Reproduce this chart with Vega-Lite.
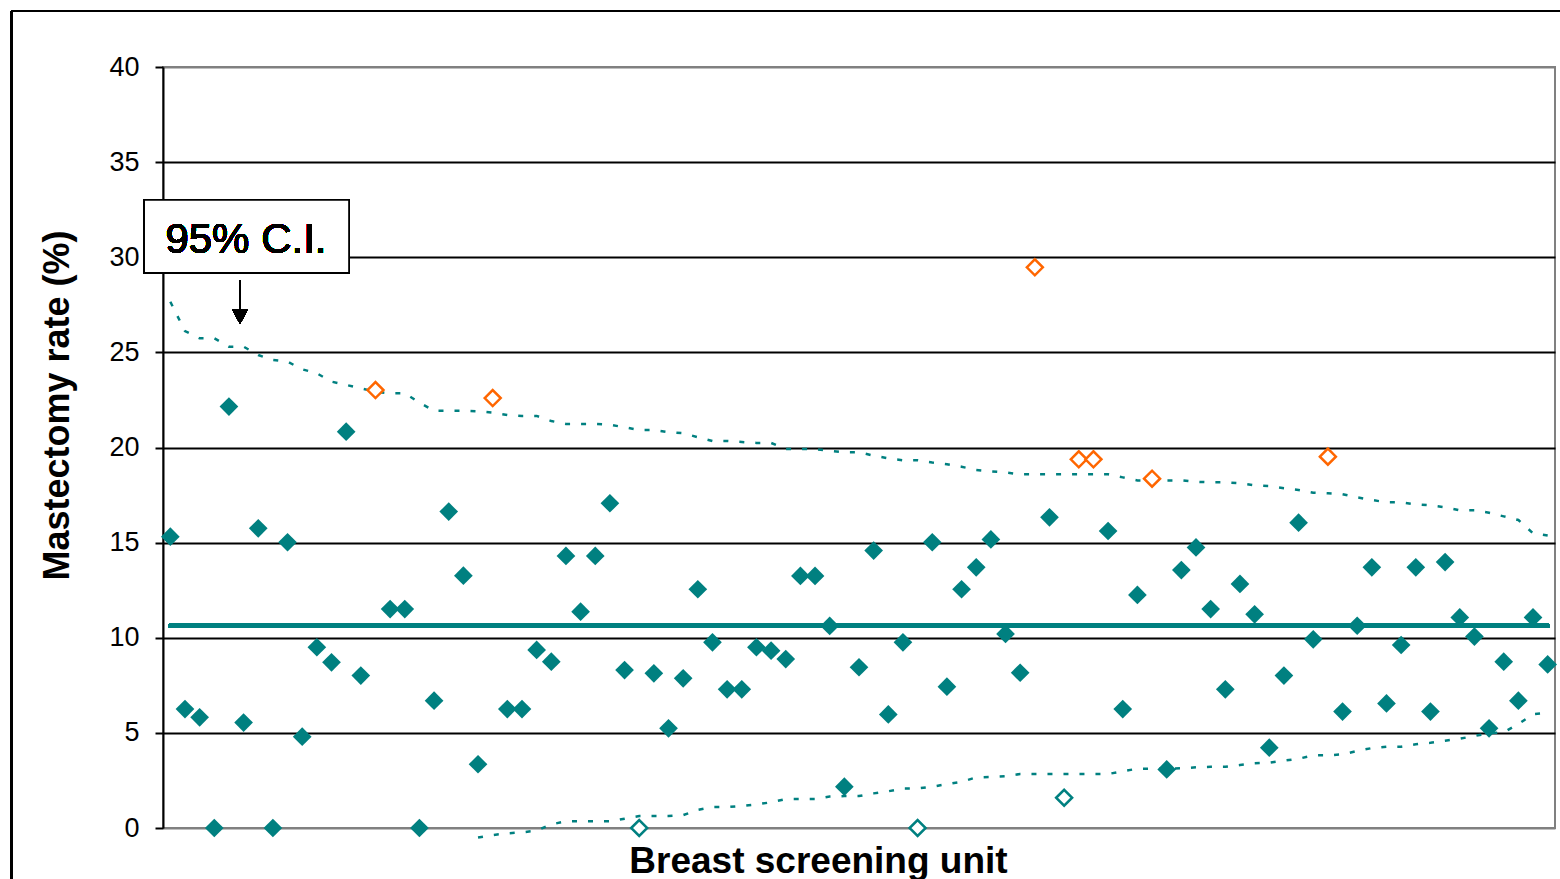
{
  "$schema": "https://vega.github.io/schema/vega-lite/v6.json",
  "width": 1392,
  "height": 761,
  "autosize": {"type": "none"},
  "padding": {"left": 163, "top": 67, "right": 5, "bottom": 51},
  "background": "white",
  "config": {
    "font": "Liberation Sans",
    "view": {"stroke": "#808080", "strokeWidth": 2},
    "axis": {"labelColor": "black", "titleColor": "black"}
  },
  "data": {
    "values": [
      {"unit": 1, "rate": 15.31, "status": "in", "upper": 27.66, "lower": null},
      {"unit": 2, "rate": 6.25, "status": "in", "upper": 26.12, "lower": null},
      {"unit": 3, "rate": 5.82, "status": "in", "upper": 25.74, "lower": null},
      {"unit": 4, "rate": 0, "status": "in", "upper": 25.74, "lower": null},
      {"unit": 5, "rate": 22.15, "status": "in", "upper": 25.3, "lower": null},
      {"unit": 6, "rate": 5.54, "status": "in", "upper": 25.3, "lower": null},
      {"unit": 7, "rate": 15.75, "status": "in", "upper": 24.86, "lower": null},
      {"unit": 8, "rate": 0, "status": "in", "upper": 24.6, "lower": null},
      {"unit": 9, "rate": 15.02, "status": "in", "upper": 24.51, "lower": null},
      {"unit": 10, "rate": 4.8, "status": "in", "upper": 24.11, "lower": null},
      {"unit": 11, "rate": 9.5, "status": "in", "upper": 23.9, "lower": null},
      {"unit": 12, "rate": 8.71, "status": "in", "upper": 23.46, "lower": null},
      {"unit": 13, "rate": 20.83, "status": "in", "upper": 23.29, "lower": null},
      {"unit": 14, "rate": 8.01, "status": "in", "upper": 23.11, "lower": null},
      {"unit": 15, "rate": 23.02, "status": "high", "upper": 22.93, "lower": null},
      {"unit": 16, "rate": 11.51, "status": "in", "upper": 22.85, "lower": null},
      {"unit": 17, "rate": 11.51, "status": "in", "upper": 22.85, "lower": null},
      {"unit": 18, "rate": 0, "status": "in", "upper": 22.36, "lower": null},
      {"unit": 19, "rate": 6.69, "status": "in", "upper": 21.93, "lower": null},
      {"unit": 20, "rate": 16.63, "status": "in", "upper": 21.93, "lower": null},
      {"unit": 21, "rate": 13.26, "status": "in", "upper": 21.93, "lower": null},
      {"unit": 22, "rate": 3.35, "status": "in", "upper": 21.9, "lower": -0.5},
      {"unit": 23, "rate": 22.6, "status": "high", "upper": 21.83, "lower": -0.37},
      {"unit": 24, "rate": 6.25, "status": "in", "upper": 21.71, "lower": -0.28},
      {"unit": 25, "rate": 6.25, "status": "in", "upper": 21.66, "lower": -0.23},
      {"unit": 26, "rate": 9.36, "status": "in", "upper": 21.66, "lower": -0.14},
      {"unit": 27, "rate": 8.74, "status": "in", "upper": 21.39, "lower": 0.19},
      {"unit": 28, "rate": 14.3, "status": "in", "upper": 21.24, "lower": 0.35},
      {"unit": 29, "rate": 11.37, "status": "in", "upper": 21.24, "lower": 0.35},
      {"unit": 30, "rate": 14.3, "status": "in", "upper": 21.24, "lower": 0.35},
      {"unit": 31, "rate": 17.07, "status": "in", "upper": 21.2, "lower": 0.35},
      {"unit": 32, "rate": 8.3, "status": "in", "upper": 21.06, "lower": 0.49},
      {"unit": 33, "rate": 0, "status": "low", "upper": 20.92, "lower": 0.63},
      {"unit": 34, "rate": 8.13, "status": "in", "upper": 20.92, "lower": 0.63},
      {"unit": 35, "rate": 5.24, "status": "in", "upper": 20.81, "lower": 0.63},
      {"unit": 36, "rate": 7.87, "status": "in", "upper": 20.75, "lower": 0.68},
      {"unit": 37, "rate": 12.55, "status": "in", "upper": 20.54, "lower": 0.95},
      {"unit": 38, "rate": 9.76, "status": "in", "upper": 20.34, "lower": 1.1},
      {"unit": 39, "rate": 7.29, "status": "in", "upper": 20.34, "lower": 1.1},
      {"unit": 40, "rate": 7.29, "status": "in", "upper": 20.29, "lower": 1.16},
      {"unit": 41, "rate": 9.5, "status": "in", "upper": 20.24, "lower": 1.24},
      {"unit": 42, "rate": 9.32, "status": "in", "upper": 20.24, "lower": 1.35},
      {"unit": 43, "rate": 8.88, "status": "in", "upper": 19.92, "lower": 1.52},
      {"unit": 44, "rate": 13.25, "status": "in", "upper": 19.92, "lower": 1.52},
      {"unit": 45, "rate": 13.25, "status": "in", "upper": 19.92, "lower": 1.52},
      {"unit": 46, "rate": 10.62, "status": "in", "upper": 19.82, "lower": 1.65},
      {"unit": 47, "rate": 2.17, "status": "in", "upper": 19.75, "lower": 1.68},
      {"unit": 48, "rate": 8.45, "status": "in", "upper": 19.75, "lower": 1.68},
      {"unit": 49, "rate": 14.58, "status": "in", "upper": 19.57, "lower": 1.82},
      {"unit": 50, "rate": 5.97, "status": "in", "upper": 19.43, "lower": 1.93},
      {"unit": 51, "rate": 9.76, "status": "in", "upper": 19.33, "lower": 2.08},
      {"unit": 52, "rate": 0, "status": "low", "upper": 19.33, "lower": 2.08},
      {"unit": 53, "rate": 15.02, "status": "in", "upper": 19.21, "lower": 2.17},
      {"unit": 54, "rate": 7.43, "status": "in", "upper": 19.12, "lower": 2.31},
      {"unit": 55, "rate": 12.55, "status": "in", "upper": 18.99, "lower": 2.43},
      {"unit": 56, "rate": 13.7, "status": "in", "upper": 18.82, "lower": 2.66},
      {"unit": 57, "rate": 15.17, "status": "in", "upper": 18.75, "lower": 2.68},
      {"unit": 58, "rate": 10.2, "status": "in", "upper": 18.69, "lower": 2.72},
      {"unit": 59, "rate": 8.16, "status": "in", "upper": 18.59, "lower": 2.84},
      {"unit": 60, "rate": 29.47, "status": "high", "upper": 18.59, "lower": 2.84},
      {"unit": 61, "rate": 16.33, "status": "in", "upper": 18.59, "lower": 2.84},
      {"unit": 62, "rate": 1.59, "status": "low", "upper": 18.59, "lower": 2.84},
      {"unit": 63, "rate": 19.38, "status": "high", "upper": 18.59, "lower": 2.84},
      {"unit": 64, "rate": 19.38, "status": "high", "upper": 18.59, "lower": 2.84},
      {"unit": 65, "rate": 15.61, "status": "in", "upper": 18.59, "lower": 2.84},
      {"unit": 66, "rate": 6.25, "status": "in", "upper": 18.43, "lower": 2.98},
      {"unit": 67, "rate": 12.25, "status": "in", "upper": 18.27, "lower": 3.12},
      {"unit": 68, "rate": 18.36, "status": "high", "upper": 18.27, "lower": 3.12},
      {"unit": 69, "rate": 3.08, "status": "in", "upper": 18.27, "lower": 3.12},
      {"unit": 70, "rate": 13.56, "status": "in", "upper": 18.27, "lower": 3.14},
      {"unit": 71, "rate": 14.75, "status": "in", "upper": 18.2, "lower": 3.19},
      {"unit": 72, "rate": 11.51, "status": "in", "upper": 18.17, "lower": 3.22},
      {"unit": 73, "rate": 7.29, "status": "in", "upper": 18.17, "lower": 3.22},
      {"unit": 74, "rate": 12.83, "status": "in", "upper": 18.12, "lower": 3.31},
      {"unit": 75, "rate": 11.23, "status": "in", "upper": 18.01, "lower": 3.4},
      {"unit": 76, "rate": 4.22, "status": "in", "upper": 17.98, "lower": 3.43},
      {"unit": 77, "rate": 8.01, "status": "in", "upper": 17.86, "lower": 3.54},
      {"unit": 78, "rate": 16.05, "status": "in", "upper": 17.77, "lower": 3.64},
      {"unit": 79, "rate": 9.92, "status": "in", "upper": 17.62, "lower": 3.82},
      {"unit": 80, "rate": 19.52, "status": "high", "upper": 17.59, "lower": 3.82},
      {"unit": 81, "rate": 6.12, "status": "in", "upper": 17.54, "lower": 3.87},
      {"unit": 82, "rate": 10.63, "status": "in", "upper": 17.38, "lower": 4.05},
      {"unit": 83, "rate": 13.7, "status": "in", "upper": 17.24, "lower": 4.2},
      {"unit": 84, "rate": 6.55, "status": "in", "upper": 17.12, "lower": 4.27},
      {"unit": 85, "rate": 9.62, "status": "in", "upper": 17.12, "lower": 4.27},
      {"unit": 86, "rate": 13.7, "status": "in", "upper": 17.01, "lower": 4.4},
      {"unit": 87, "rate": 6.12, "status": "in", "upper": 16.96, "lower": 4.48},
      {"unit": 88, "rate": 13.98, "status": "in", "upper": 16.86, "lower": 4.59},
      {"unit": 89, "rate": 11.07, "status": "in", "upper": 16.7, "lower": 4.69},
      {"unit": 90, "rate": 10.06, "status": "in", "upper": 16.7, "lower": 4.84},
      {"unit": 91, "rate": 5.24, "status": "in", "upper": 16.57, "lower": 4.98},
      {"unit": 92, "rate": 8.74, "status": "in", "upper": 16.38, "lower": 5.03},
      {"unit": 93, "rate": 6.69, "status": "in", "upper": 16.19, "lower": 5.47},
      {"unit": 94, "rate": 11.07, "status": "in", "upper": 15.49, "lower": 5.98},
      {"unit": 95, "rate": 8.6, "status": "in", "upper": 15.37, "lower": 6.05}
    ]
  },
  "encoding": {
    "x": {
      "field": "unit",
      "type": "quantitative",
      "scale": {"domain": [0.5, 95.5], "nice": false, "zero": false},
      "axis": {
        "title": "Breast screening unit",
        "labels": false,
        "ticks": false,
        "domain": false,
        "grid": false,
        "titleFont": "Liberation Sans",
        "titleFontSize": 37,
        "titleFontWeight": "bold",
        "titleX": 655,
        "titleY": 44,
        "titleAlign": "center",
        "titleBaseline": "alphabetic"
      }
    },
    "y": {
      "field": "rate",
      "type": "quantitative",
      "scale": {"domain": [0, 40], "nice": false, "zero": false},
      "axis": {
        "title": "Mastectomy rate (%)",
        "values": [0, 5, 10, 15, 20, 25, 30, 35, 40],
        "titleFont": "Liberation Sans",
        "titleFontSize": 36,
        "titleFontWeight": "bold",
        "titleAngle": 270,
        "titleX": -95,
        "titleY": 338,
        "titleAlign": "center",
        "titleBaseline": "alphabetic",
        "labelFont": "Liberation Sans",
        "labelFontSize": 27,
        "labelPadding": 16,
        "tickSize": 8,
        "tickColor": "black",
        "tickWidth": 2,
        "domainColor": "black",
        "domainWidth": 2,
        "grid": true,
        "gridColor": {"condition": {"test": "datum.value === 0 || datum.value === 40", "value": "#808080"}, "value": "black"},
        "gridWidth": 2
      }
    }
  },
  "layer": [
    {
      "mark": {"type": "rule", "color": "black", "strokeWidth": 2},
      "encoding": {
        "x": {"datum": -9.87, "type": "quantitative"},
        "x2": {"datum": 120},
        "y": {"datum": 42.94, "type": "quantitative"},
        "y2": null
      }
    },
    {
      "mark": {"type": "rule", "color": "black", "strokeWidth": 2},
      "encoding": {
        "x": {"datum": -9.87, "type": "quantitative"},
        "y": {"datum": 42.94, "type": "quantitative"},
        "y2": {"datum": -10}
      }
    },
    {
      "mark": {"type": "line", "color": "#008080", "strokeWidth": 2.5, "strokeDash": [5, 11]},
      "encoding": {
        "y": {"field": "upper", "type": "quantitative", "title": "Mastectomy rate (%)"}
      }
    },
    {
      "mark": {"type": "line", "color": "#008080", "strokeWidth": 2.5, "strokeDash": [5, 11]},
      "encoding": {
        "y": {"field": "lower", "type": "quantitative", "title": "Mastectomy rate (%)"}
      }
    },
    {
      "mark": {"type": "rule", "color": "#008080", "strokeWidth": 4.5, "strokeCap": "round"},
      "encoding": {
        "x": {"datum": 1, "type": "quantitative"},
        "x2": {"datum": 95},
        "y": {"datum": 10.63, "type": "quantitative"}
      }
    },
    {
      "transform": [{"filter": "datum.status === 'in'"}],
      "mark": {"type": "point", "shape": "diamond", "filled": true, "color": "#008080", "size": 350, "opacity": 1},
      "encoding": {}
    },
    {
      "transform": [{"filter": "datum.status !== 'in'"}],
      "mark": {"type": "point", "shape": "diamond", "filled": true, "fill": "white", "size": 256, "strokeWidth": 2.5, "opacity": 1},
      "encoding": {
        "stroke": {
          "field": "status",
          "type": "nominal",
          "scale": {"domain": ["high", "low"], "range": ["#ff6600", "#008080"]},
          "legend": null
        }
      }
    },
    {
      "mark": {"type": "rect", "fill": "white", "stroke": "black", "strokeWidth": 1.5},
      "encoding": {
        "x": {"datum": -0.78, "type": "quantitative"},
        "x2": {"datum": 13.19},
        "y": {"datum": 33.01, "type": "quantitative"},
        "y2": {"datum": 29.19}
      }
    },
    {
      "mark": {"type": "text", "text": "95% C.I.", "font": "Liberation Sans", "fontSize": 42, "color": "black", "align": "center", "baseline": "alphabetic"},
      "encoding": {
        "x": {"datum": 6.16, "type": "quantitative"},
        "y": {"datum": 30.22, "type": "quantitative"}
      }
    },
    {
      "mark": {"type": "rule", "color": "black", "strokeWidth": 1.5},
      "encoding": {
        "x": {"datum": 5.755, "type": "quantitative"},
        "y": {"datum": 28.8, "type": "quantitative"},
        "y2": {"datum": 27.0}
      }
    },
    {
      "mark": {"type": "point", "shape": "M-1,-0.94L1,-0.94L0,0.94Z", "filled": true, "color": "black", "size": 256, "opacity": 1},
      "encoding": {
        "x": {"datum": 5.755, "type": "quantitative"},
        "y": {"datum": 26.89, "type": "quantitative"}
      }
    }
  ]
}
